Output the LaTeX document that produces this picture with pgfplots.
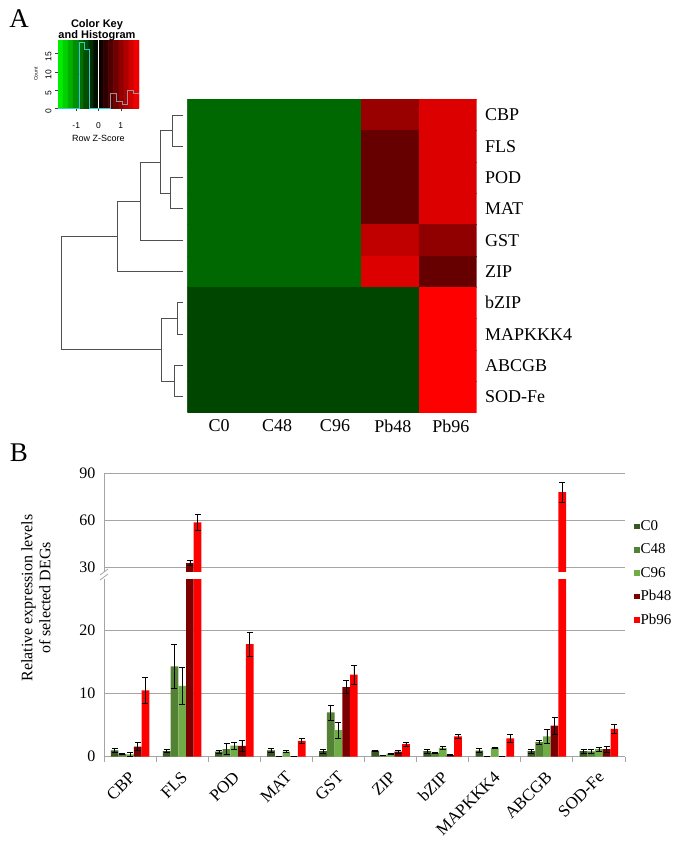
\documentclass[border=0pt]{standalone}
\usepackage{fontspec}
\setmainfont{Liberation Serif}
\newfontfamily\keyfont{Liberation Sans}
\usepackage{pgfplots}
\usepackage{pgfplotstable}
\pgfplotsset{compat=1.18}
\definecolor{cCz}{RGB}{56,87,35}
\definecolor{cCa}{RGB}{84,130,53}
\definecolor{cCb}{RGB}{112,173,71}
\definecolor{cPa}{RGB}{125,0,0}
\definecolor{cPb}{RGB}{255,0,0}
\definecolor{dendro}{RGB}{80,80,80}
\definecolor{gridc}{RGB}{165,165,165}

\pgfplotstableread{
x C0 eC0 C48 eC48 C96 eC96 Pb48 ePb48 Pb96 ePb96
0 1.0 0.3 0.4 0.1 0.35 0.3 1.6 0.6 10.5 2.0
1 0.9 0.2 14.3 3.5 11.2 2.9 32.5 1.5 58.6 5.0
2 0.8 0.25 1.2 0.9 1.75 0.6 1.7 0.9 17.8 1.9
3 1.0 0.3 0.05 0 0.8 0.15 0.05 0 2.5 0.4
4 0.9 0.3 7.0 1.2 4.2 1.3 11.0 1.0 13.0 1.5
5 0.95 0.1 0.2 0 0.5 0.1 0.8 0.2 2.0 0.3
6 0.9 0.3 0.6 0.1 1.4 0.2 0.25 0.05 3.2 0.3
7 0.95 0.3 0.05 0 1.4 0.15 0 0 2.9 0.7
8 0.9 0.3 2.3 0.3 3.2 1.1 4.9 1.4 78.0 6.5
9 0.9 0.3 0.85 0.25 1.2 0.3 1.2 0.5 4.4 0.7
}\bardata

\begin{document}
\begin{tikzpicture}
\useasboundingbox (0,0) rectangle (677bp,-845bp);

% ---------- dendrogram (pixel coordinates) ----------
\begin{axis}[at={(0bp,0bp)}, anchor=north west, scale only axis,
  width=677bp, height=845bp, xmin=0, xmax=677, ymin=0, ymax=845,
  y dir=reverse, hide axis, clip=false]
\addplot[dendro, line width=0.9bp] coordinates {(183,115) (172.7,115) (172.7,146.3) (183,146.3)};
\addplot[dendro, line width=0.9bp] coordinates {(183,177.6) (170,177.6) (170,208.9) (183,208.9)};
\addplot[dendro, line width=0.9bp] coordinates {(172.7,130.65) (160,130.65) (160,193.25) (170,193.25)};
\addplot[dendro, line width=0.9bp] coordinates {(160,161.95) (140,161.95) (140,240.2) (183,240.2)};
\addplot[dendro, line width=0.9bp] coordinates {(140,201.1) (117.3,201.1) (117.3,271.5) (183,271.5)};
\addplot[dendro, line width=0.9bp] coordinates {(183,302.8) (177,302.8) (177,334.1) (183,334.1)};
\addplot[dendro, line width=0.9bp] coordinates {(183,365.4) (174.3,365.4) (174.3,396.7) (183,396.7)};
\addplot[dendro, line width=0.9bp] coordinates {(177,318.45) (161,318.45) (161,381.05) (174.3,381.05)};
\addplot[dendro, line width=0.9bp] coordinates {(117.3,236.3) (61.7,236.3) (61.7,349.75) (161,349.75)};
\end{axis}

% ---------- heatmap ----------
\begin{axis}[at={(187.3bp,-99.3bp)}, anchor=north west, scale only axis,
  width=289.4bp, height=313bp,
  xmin=-0.5, xmax=4.5, ymin=-0.5, ymax=9.5, y dir=reverse,
  axis line style={draw=none}, major tick length=0pt, tick style={draw=none},
  xtick={0,...,4}, xticklabels={C0,C48,C96,Pb48,Pb96},
  ytick={0,...,9}, yticklabels={CBP,FLS,POD,MAT,GST,ZIP,bZIP,MAPKKK4,ABCGB,SOD-Fe},
  yticklabel pos=right,
  ticklabel style={font=\fontsize{18bp}{20bp}\selectfont},
  xticklabel style={yshift=-4bp, xshift=3bp},
  yticklabel style={xshift=5bp},
  colormap={heat}{rgb255=(0,104,0) rgb255=(0,70,0) rgb255=(102,0,0) rgb255=(144,0,0)
    rgb255=(153,0,0) rgb255=(192,0,0) rgb255=(221,0,0) rgb255=(255,0,0)}]
\addplot[matrix plot*, mesh/cols=5, point meta=explicit, colormap access=direct] table[meta=c] {
x y c
0 0 0
1 0 0
2 0 0
3 0 4
4 0 6
0 1 0
1 1 0
2 1 0
3 1 2
4 1 6
0 2 0
1 2 0
2 2 0
3 2 2
4 2 6
0 3 0
1 3 0
2 3 0
3 3 2
4 3 6
0 4 0
1 4 0
2 4 0
3 4 5
4 4 3
0 5 0
1 5 0
2 5 0
3 5 6
4 5 2
0 6 1
1 6 1
2 6 1
3 6 1
4 6 7
0 7 1
1 7 1
2 7 1
3 7 1
4 7 7
0 8 1
1 8 1
2 8 1
3 8 1
4 8 7
0 9 1
1 9 1
2 9 1
3 9 1
4 9 7
};
\end{axis}

% ---------- colour key ----------
\begin{axis}[at={(58bp,-40bp)}, anchor=north west, scale only axis,
  width=81bp, height=68.3bp,
  xmin=-1.82, xmax=1.82, ymin=0, ymax=18.7,
  axis x line*=bottom, axis y line*=left,
  axis line style={-, black!75, line width=0.5bp},
  tick align=outside, major tick length=3bp, tick style={black!75, line width=0.5bp},
  xtick={-1,0,1}, xticklabels={-1,0,1},
  ytick={0,5,10,15}, yticklabels={0,5,10,15},
  ticklabel style={font=\keyfont\fontsize{8.5bp}{9bp}\selectfont},
  xticklabel style={yshift=-8bp},
  yticklabel style={rotate=90, anchor=south, xshift=-3bp},
  xlabel={Row Z-Score},
  xlabel style={font=\keyfont\fontsize{9bp}{9bp}\selectfont, yshift=0bp},
  ylabel={Count},
  ylabel style={font=\keyfont\fontsize{5bp}{5bp}\selectfont, yshift=1bp},
  colormap={keymap}{rgb255=(0,255,0) rgb255=(0,0,0) rgb255=(255,0,0)},
  point meta min=-1.82, point meta max=1.82]
\addplot[matrix plot*, mesh/cols=16, point meta=x] table {
x y
-1.70625 4.675
-1.47875 4.675
-1.25125 4.675
-1.02375 4.675
-0.79625 4.675
-0.56875 4.675
-0.34125 4.675
-0.11375 4.675
0.11375 4.675
0.34125 4.675
0.56875 4.675
0.79625 4.675
1.02375 4.675
1.25125 4.675
1.47875 4.675
1.70625 4.675
-1.70625 14.025
-1.47875 14.025
-1.25125 14.025
-1.02375 14.025
-0.79625 14.025
-0.56875 14.025
-0.34125 14.025
-0.11375 14.025
0.11375 14.025
0.34125 14.025
0.56875 14.025
0.79625 14.025
1.02375 14.025
1.25125 14.025
1.47875 14.025
1.70625 14.025
};
\addplot[white, line width=0.8bp] coordinates {(0,0) (0,18.7)};
\addplot[const plot, color={rgb,255:red,40;green,210;blue,210}, line width=0.9bp]
  coordinates {(-1.82,0) (-0.87,18) (-0.64,16) (-0.39,0) (0.54,0)};
\addplot[const plot, color={rgb,255:red,150;green,150;blue,160}, line width=0.9bp]
  coordinates {(0.54,0) (0.54,4) (0.8,2) (1.07,1) (1.31,5) (1.55,4) (1.82,4)};
\end{axis}
\node[font=\keyfont\bfseries\fontsize{11bp}{10.5bp}\selectfont, align=center] at (97bp,-30bp) {Color Key\\and Histogram};

% ---------- bar chart ----------
\begin{axis}[at={(104bp,-756.7bp)}, anchor=south west, scale only axis,
  width=521bp, height=283.4bp,
  ybar=0pt, bar width=7.7bp,
  xmin=-0.5, xmax=9.5, ymin=0, ymax=90,
  y coord trafo/.code={\pgfmathparse{(#1>30) ? 30+(#1-30)*0.2471 : #1}},
  y coord inv trafo/.code={\pgfmathparse{(#1>30) ? 30+(#1-30)/0.2471 : #1}},
  ytick={0,10,20,30,60,90}, yticklabels={0,10,20,30,60,90},
  ymajorgrids, grid style={gridc, line width=0.9bp},
  axis x line*=bottom, axis y line*=left,
  axis line style={-, gridc, line width=0.9bp},
  ytick style={draw=none},
  xtick={-0.5,0.5,...,9.5}, xticklabels={},
  tick align=outside, major tick length=5bp, xtick style={gridc, line width=0.9bp},
  extra x ticks={0,...,9},
  extra x tick labels={CBP,FLS,POD,MAT,GST,ZIP,bZIP,MAPKKK4,ABCGB,SOD-Fe},
  extra x tick style={major tick length=0pt, xtick style={draw=none},
    xticklabel style={xshift=3bp, yshift=-17bp, rotate=45, anchor=east, inner sep=1bp,
      font=\fontsize{17bp}{18bp}\selectfont}},
  ticklabel style={font=\fontsize{16bp}{18bp}\selectfont},
  ylabel={Relative expression levels\\of selected DEGs},
  ylabel style={align=center, font=\fontsize{16bp}{18bp}\selectfont,
    at={(axis description cs:-0.1305,0.56)}, anchor=center},
  legend style={draw=none, at={(1.017,0.837)}, anchor=north west, inner sep=0pt,
    font=\fontsize{15bp}{16bp}\selectfont, row sep=9.8bp,
    nodes={inner sep=1bp}, cells={anchor=west}},
  legend image code/.code={\fill[#1] (0bp,-2.8bp) rectangle (5.6bp,2.8bp);},
  error bars/y dir=both, error bars/y explicit,
  error bars/error bar style={black, line width=0.7bp},
  error bars/error mark options={rotate=90, black, mark size=3bp, line width=0.7bp}]
\addplot[fill=cCz, draw=none] table[x=x, y=C0,
  y error expr={\thisrow{eC0}*((\thisrow{C0}>30)*0.2471+(\thisrow{C0}<=30))}] {\bardata};
\addplot[fill=cCa, draw=none] table[x=x, y=C48,
  y error expr={\thisrow{eC48}*((\thisrow{C48}>30)*0.2471+(\thisrow{C48}<=30))}] {\bardata};
\addplot[fill=cCb, draw=none] table[x=x, y=C96,
  y error expr={\thisrow{eC96}*((\thisrow{C96}>30)*0.2471+(\thisrow{C96}<=30))}] {\bardata};
\addplot[fill=cPa, draw=none] table[x=x, y=Pb48,
  y error expr={\thisrow{ePb48}*((\thisrow{Pb48}>30)*0.2471+(\thisrow{Pb48}<=30))}] {\bardata};
\addplot[fill=cPb, draw=none] table[x=x, y=Pb96,
  y error expr={\thisrow{ePb96}*((\thisrow{Pb96}>30)*0.2471+(\thisrow{Pb96}<=30))}] {\bardata};
\legend{C0,C48,C96,Pb48,Pb96}
\end{axis}
% axis break
\fill[white] (99bp,-572bp) rectangle (626bp,-579.3bp);
\draw[gridc, line width=0.8bp] (100bp,-575bp) -- (108bp,-569bp);
\draw[gridc, line width=0.8bp] (100bp,-580bp) -- (108bp,-574bp);

% panel letters
\node[font=\fontsize{27bp}{27bp}\selectfont] at (19bp,-19bp) {A};
\node[font=\fontsize{27bp}{27bp}\selectfont] at (19bp,-453bp) {B};
\end{tikzpicture}
\end{document}
